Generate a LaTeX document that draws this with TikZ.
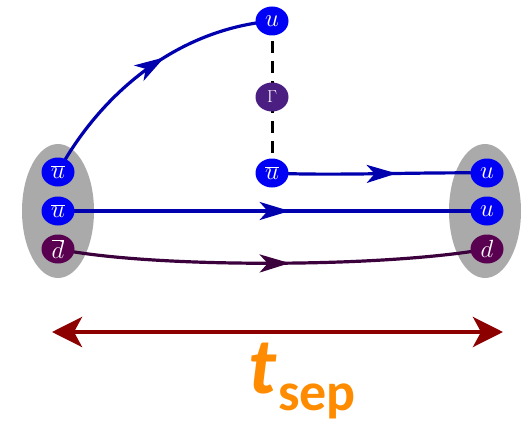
\documentclass[tikz,border=0pt]{standalone}
\usepackage{fontspec}
\newfontfamily\cali{Carlito}
\usetikzlibrary{arrows.meta,decorations.markings,shapes.geometric}
\definecolor{qblue}{RGB}{0,0,245}
\definecolor{lblue}{RGB}{0,0,175}
\definecolor{qpurple}{RGB}{90,0,80}
\definecolor{lpurple}{RGB}{60,0,60}
\definecolor{gpurple}{RGB}{75,30,130}
\definecolor{grayell}{RGB}{170,170,170}
\definecolor{dred}{RGB}{140,0,0}
\definecolor{orng}{RGB}{255,140,0}
\tikzset{
  quark/.style={ellipse, fill=#1, text=white, minimum width=33pt, minimum height=29pt, inner sep=0pt, font=\fontsize{24}{24}\selectfont},
  hadron/.style={ellipse, fill=grayell, minimum width=72pt, minimum height=134pt, inner sep=0pt},
  prop/.style 2 args={line width=3.2pt, color=#1, postaction={decorate}, decoration={markings, mark=at position #2 with {\arrow{Stealth[length=30pt,width=18pt,inset=8pt]}}}}
}
\begin{document}
\begin{tikzpicture}[x=1pt,y=-1pt]
\useasboundingbox (0,0) rectangle (528,428);
\node[hadron] (L) at (58,211) {};
\node[hadron] (R) at (485,211) {};
\coordinate (pa) at (58,172);
\coordinate (pb) at (58,211);
\coordinate (pc) at (58,249);
\coordinate (pu) at (272,21);
\coordinate (pg) at (272,97);
\coordinate (pv) at (272,173);
\coordinate (qa) at (487,173);
\coordinate (qb) at (487,211);
\coordinate (qc) at (487,249);
\draw[prop={lblue}{0.58}] (pa) .. controls (100,95) and (175,30) .. (pu);
\draw[prop={lblue}{0.58}] (pv) .. controls (330,176) and (420,172) .. (qa);
\draw[prop={lblue}{0.54}] (pb) -- (qb);
\draw[prop={lpurple}{0.54}] (pc) .. controls (150,268) and (380,268) .. (qc);
\draw[line width=3pt, dash pattern=on 12pt off 8pt] (pu) -- (pv);
\node[quark=qblue] (l1) at (pa) {$\overline{u}$};
\node[quark=qblue] (l2) at (pb) {$\overline{u}$};
\node[quark=qpurple] (l3) at (pc) {$\overline{d}$};
\node[quark=qblue] (tu) at (pu) {$u$};
\node[quark=gpurple, font=\fontsize{18}{18}\selectfont] (gam) at (pg) {$\Gamma$};
\node[quark=qblue] (tv) at (pv) {$\overline{u}$};
\node[quark=qblue] (r1) at (qa) {$u$};
\node[quark=qblue] (r2) at (qb) {$u$};
\node[quark=qpurple] (r3) at (qc) {$d$};
\coordinate (al) at (52,332);
\coordinate (ar) at (503,332);
\draw[dred, line width=4pt, {Stealth[length=30pt,width=30pt,inset=8pt]}-{Stealth[length=30pt,width=30pt,inset=8pt]}] (al) -- (ar);
\node[anchor=base west, inner sep=0pt, text=orng, font=\cali\fontsize{80}{80}\selectfont\bfseries\itshape] (tt) at (248,393) {t};
\node[anchor=base west, inner sep=0pt, text=orng, font=\cali\fontsize{54}{54}\selectfont\bfseries] (sep) at (278,410) {sep};
\end{tikzpicture}
\end{document}
